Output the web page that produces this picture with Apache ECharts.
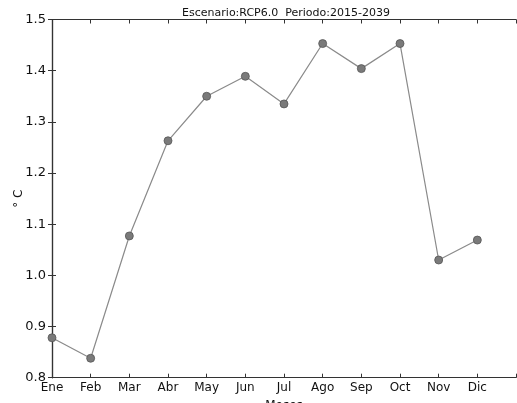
<!DOCTYPE html>
<html><head><meta charset="utf-8">
<script src="https://cdn.jsdelivr.net/npm/echarts@6/dist/echarts.min.js"></script>
<style>html,body{margin:0;padding:0;background:#fff}#c{width:517px;height:403px}</style>
</head><body><div id="c"></div>
<script>
const months = ['Ene','Feb','Mar','Abr','May','Jun','Jul','Ago','Sep','Oct','Nov','Dic'];
const values = [0.878, 0.838, 1.077, 1.263, 1.350, 1.389, 1.335, 1.453, 1.404, 1.453, 1.030, 1.069];
const yTicks = [0.8, 0.9, 1.0, 1.1, 1.2, 1.3, 1.4, 1.5];
const titleText = 'Escenario:RCP6.0  Periodo:2015-2039';

const font = 'DejaVu Sans';
const axisCol = '#333';
const chart = echarts.init(document.getElementById('c'), null, {renderer:'canvas'});
const tickIn = {show:true, inside:true, length:4, lineStyle:{color:axisCol, width:1}};
chart.setOption({
  animation:false,
  title:{text:titleText, left:281, textAlign:'center', top:3,
    textStyle:{fontFamily:font, fontSize:11, fontWeight:'normal', color:'#111'}},
  grid:{left:52, right:1, top:19.5, bottom:25.3, containLabel:false, outerBoundsMode:'none'},
  xAxis:[{
    type:'value', min:0, max:12, interval:1, position:'bottom',
    name:'Meses', nameLocation:'middle', nameGap:22, nameMoveOverlap:false,
    nameTextStyle:{fontFamily:font, fontSize:12, color:'#111'},
    axisLine:{show:true, lineStyle:{color:axisCol, width:1.2}},
    axisTick:tickIn, splitLine:{show:false},
    axisLabel:{fontFamily:font, fontSize:12, color:'#111', margin:4,
      formatter:v => months[v] !== undefined ? months[v] : ''}
  },{
    type:'value', min:0, max:12, interval:1, position:'top',
    axisLine:{show:true, lineStyle:{color:axisCol, width:1.2}},
    axisTick:tickIn, splitLine:{show:false}, axisLabel:{show:false}
  }],
  yAxis:[{
    type:'value', min:yTicks[0], max:yTicks[yTicks.length-1], interval:0.1, position:'left',
    name:'° C', nameLocation:'middle', nameGap:27, nameRotate:90, nameMoveOverlap:false,
    nameTextStyle:{fontFamily:font, fontSize:12, color:'#111'},
    axisLine:{show:true, lineStyle:{color:axisCol, width:1.2}},
    axisTick:tickIn, splitLine:{show:false},
    axisLabel:{fontFamily:font, fontSize:13, color:'#111', margin:6,
      formatter:v => v.toFixed(1)}
  },{
    type:'value', min:yTicks[0], max:yTicks[yTicks.length-1], interval:0.1, position:'right',
    axisLine:{show:true, lineStyle:{color:axisCol, width:1.2}},
    axisTick:tickIn, splitLine:{show:false}, axisLabel:{show:false}
  }],
  series:[{
    type:'line', xAxisIndex:0, yAxisIndex:0,
    data: values.map((v,i)=>[i,v]),
    symbol:'circle', symbolSize:8,
    lineStyle:{color:'#8a8a8a', width:1.2},
    itemStyle:{color:'#7a7a7a', borderColor:'#555', borderWidth:0.8},
    clip:false
  }]
});
</script></body></html>
